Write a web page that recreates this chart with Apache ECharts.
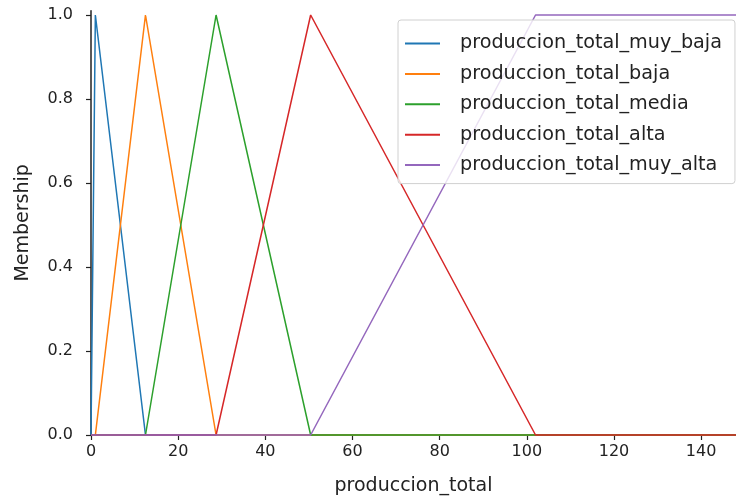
<!DOCTYPE html>
<html>
<head>
<meta charset="utf-8">
<script src="https://cdn.jsdelivr.net/npm/echarts@6/dist/echarts.min.js"></script>
<style>
  html, body { margin: 0; padding: 0; background: #fff; }
  #chart { width: 736px; height: 501px; }
</style>
</head>
<body>
<div id="chart"></div>
<script>
// Series names
const seriesNames = [
  'produccion_total_muy_baja',
  'produccion_total_baja',
  'produccion_total_media',
  'produccion_total_alta',
  'produccion_total_muy_alta'
];
// Vertices of each membership function: x positions and memberships
const muyBajaX = [0, 1, 12.5, 148];
const muyBajaY = [0, 1, 0, 0];
const bajaX = [0, 1, 12.5, 28.7, 148];
const bajaY = [0, 0, 1, 0, 0];
const mediaX = [0, 12.5, 28.7, 50.4, 148];
const mediaY = [0, 0, 1, 0, 0];
const altaX = [0, 28.7, 50.4, 102, 148];
const altaY = [0, 0, 1, 0, 0];
const muyAltaX = [0, 50.4, 102, 148];
const muyAltaY = [0, 0, 1, 1];

const xTicks = [0, 20, 40, 60, 80, 100, 120, 140];
const yTicks = [0, 0.2, 0.4, 0.6, 0.8, 1.0];
const colors = ['#1f77b4', '#ff7f0e', '#2ca02c', '#d62728', '#9467bd'];

const xs = [muyBajaX, bajaX, mediaX, altaX, muyAltaX];
const ys = [muyBajaY, bajaY, mediaY, altaY, muyAltaY];

const chart = echarts.init(document.getElementById('chart'), null, { renderer: 'canvas' });
const font = 'DejaVu Sans';
const txt = '#222';

chart.setOption({
  animation: false,
  backgroundColor: '#fff',
  color: colors,
  grid: { left: 91, right: 0, top: 10.8, bottom: 64, containLabel: false },
  legend: {
    orient: 'vertical',
    left: 398,
    top: 20,
    padding: [14, 13, 9, 7],
    itemGap: 11.4,
    itemWidth: 35,
    itemHeight: 2,
    icon: 'rect',
    backgroundColor: 'rgba(255,255,255,0.8)',
    borderColor: '#d0d0d0',
    borderWidth: 1,
    borderRadius: 3,
    textStyle: { fontFamily: font, fontSize: 19.2, color: txt, padding: [0, 0, 0, 15] },
    data: seriesNames
  },
  xAxis: {
    type: 'value',
    min: 0,
    max: 148,
    name: 'produccion_total',
    nameLocation: 'middle',
    nameGap: 42,
    nameTextStyle: { fontFamily: font, fontSize: 19, color: txt },
    axisLine: { onZero: false, lineStyle: { color: '#222', width: 1.5 } },
    axisTick: { show: true, length: 5, inside: false, customValues: xTicks, lineStyle: { color: '#222', width: 1.2 } },
    axisLabel: { customValues: xTicks, margin: 9, fontFamily: font, fontSize: 16, color: txt },
    splitLine: { show: false }
  },
  yAxis: {
    type: 'value',
    min: 0,
    max: 1.01,
    name: 'Membership',
    nameLocation: 'middle',
    nameGap: 58,
    nameTextStyle: { fontFamily: font, fontSize: 19, color: txt },
    axisLine: { show: true, lineStyle: { color: '#222', width: 1.5 } },
    axisTick: { show: true, length: 5, customValues: yTicks, lineStyle: { color: '#222', width: 1.2 } },
    axisLabel: { customValues: yTicks, margin: 18, fontFamily: font, fontSize: 16, color: txt,
      formatter: v => v.toFixed(1) },
    splitLine: { show: false }
  },
  series: seriesNames.map((n, i) => ({
    name: n,
    type: 'line',
    showSymbol: false,
    symbol: 'none',
    clip: false,
    lineStyle: { width: 1.5, color: colors[i] },
    itemStyle: { color: colors[i] },
    data: xs[i].map((x, k) => [x, ys[i][k]])
  }))
});
</script>
</body>
</html>
